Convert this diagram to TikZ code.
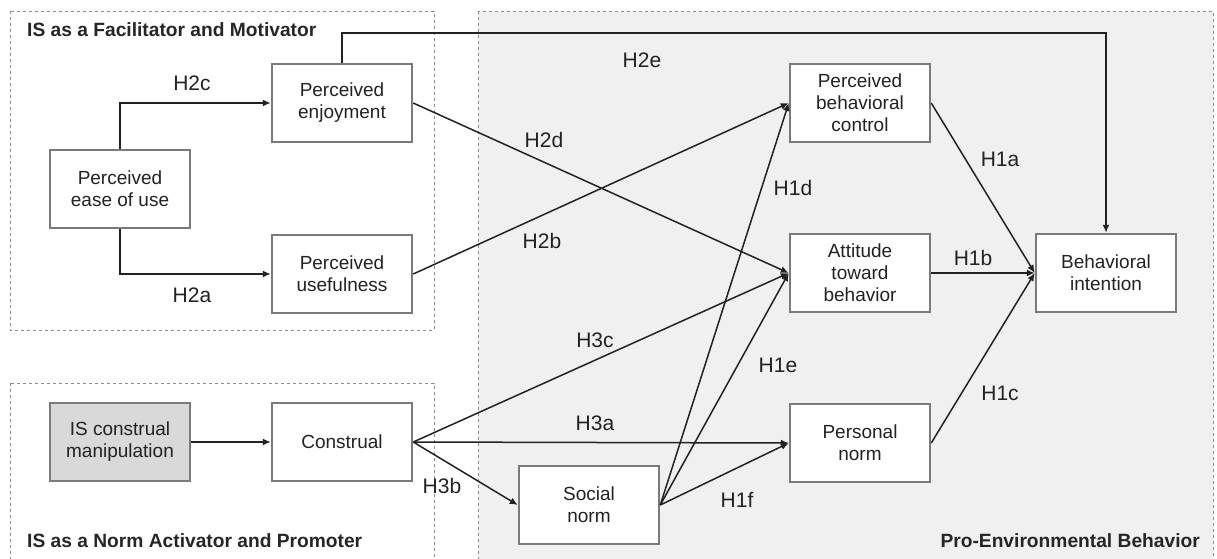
\documentclass[tikz,border=0pt]{standalone}
\usepackage{fontspec}
\setmainfont{Liberation Sans}
\usetikzlibrary{arrows.meta}
\definecolor{boxgray}{HTML}{7A7A7A}
\definecolor{linecol}{HTML}{222222}
\definecolor{panelgray}{HTML}{8C8C8C}
\definecolor{rightfill}{HTML}{F0F0F0}
\definecolor{manfill}{HTML}{D9D9D9}
\begin{document}
\begin{tikzpicture}[x=1pt,y=-1pt,
  box/.style={draw=boxgray, line width=2.5pt, fill=white, minimum width=140pt, minimum height=78pt, align=center, font=\fontsize{19}{22}\selectfont, inner sep=0pt, text=linecol},
  lab/.style={font=\fontsize{21}{24}\selectfont, inner sep=0pt, text=linecol},
  ttl/.style={font=\bfseries\fontsize{19.2}{22}\selectfont, inner sep=0pt, text=black!85},
  conn/.style={line width=1.5pt, draw=linecol},
  arr/.style={conn, -{Latex[length=8pt,width=7pt]}},
  panel/.style={draw=panelgray, dashed, line width=0.8pt}
]
\useasboundingbox (0,0) rectangle (1217,558);
\clip (0,0) rectangle (1217,558);
\fill[white] (0,0) rectangle (1217,558);
% panels
\fill[rightfill] (478,11) rectangle (1213,570);
\draw[panel] (478,11) rectangle (1213,570);
\draw[panel] (10,11) rectangle (434,330);
\draw[panel] (10,383) rectangle (434,570);
% titles
\node[ttl, anchor=west] (t1) at (27,30) {IS as a Facilitator and Motivator};
\node[ttl, anchor=west] (t2) at (27,541) {IS as a Norm Activator and Promoter};
\node[ttl, anchor=east] (t3) at (1200,541) {Pro-Environmental Behavior};
% nodes
\node[box] (enj) at (342,103) {Perceived\\enjoyment};
\node[box] (peou) at (120,189) {Perceived\\ease of use};
\node[box] (pu) at (342,274) {Perceived\\usefulness};
\node[box, fill=manfill] (man) at (120,442) {IS construal\\manipulation};
\node[box] (con) at (342,442) {Construal};
\node[box] (pbc) at (860,103) {Perceived\\behavioral\\control};
\node[box] (att) at (860,273) {Attitude\\toward\\behavior};
\node[box] (bi) at (1106,273) {Behavioral\\intention};
\node[box] (pn) at (860,443) {Personal\\norm};
\node[box] (sn) at (589,505) {Social\\norm};
% connectors
\coordinate (top) at (342,33);
\draw[arr] (peou.north) |- (enj.west);
\draw[arr] (peou.south) |- (pu.west);
\draw[arr] (enj.north) -- (top) -| (bi.north);
\draw[arr] (enj.east) -- (att.west);
\draw[arr] (pu.east) -- (pbc.west);
\draw[arr] (pbc.east) -- (bi.west);
\draw[arr] (att.east) -- (bi.west);
\draw[arr] (pn.east) -- (bi.west);
\draw[arr] (man.east) -- (con.west);
\draw[arr] (con.east) -- (att.west);
\draw[arr] (con.east) -- (pn.west);
\draw[arr] (con.east) -- (sn.west);
\draw[arr] (sn.east) -- (pbc.west);
\draw[arr] (sn.east) -- (att.west);
\draw[arr] (sn.east) -- (pn.west);
% labels
\node[lab] (l2c) at (192,83) {H2c};
\node[lab] (l2a) at (192,295) {H2a};
\node[lab] (l2e) at (642,60) {H2e};
\node[lab] (l2d) at (544,140) {H2d};
\node[lab] (l2b) at (542,241) {H2b};
\node[lab] (l1d) at (793,188) {H1d};
\node[lab] (l1a) at (1000,159) {H1a};
\node[lab] (l1b) at (973,258) {H1b};
\node[lab] (l1c) at (1000,393) {H1c};
\node[lab] (l3c) at (595,340) {H3c};
\node[lab] (l3a) at (595,423) {H3a};
\node[lab] (l1e) at (778,365) {H1e};
\node[lab] (l3b) at (442,486) {H3b};
\node[lab] (l1f) at (737,500) {H1f};
\end{tikzpicture}
\end{document}
